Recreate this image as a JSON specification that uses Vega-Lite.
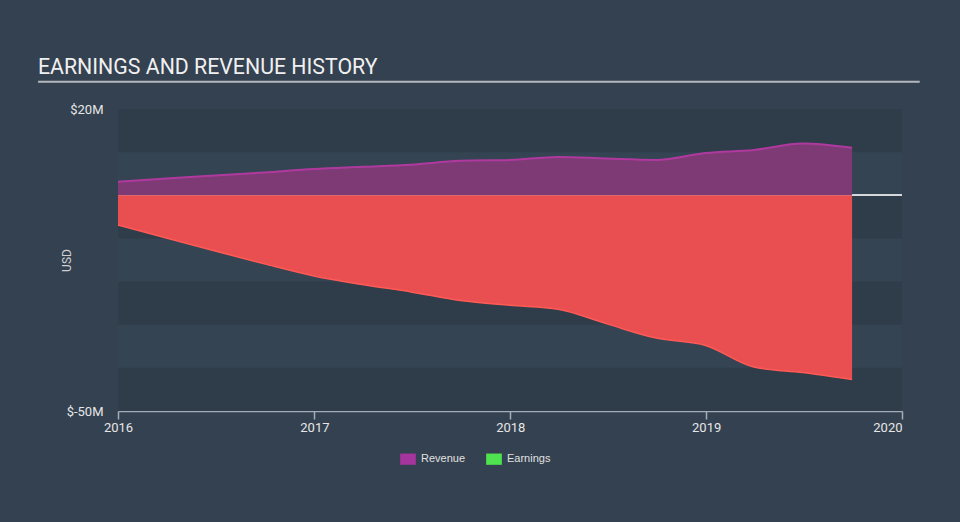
{
  "$schema": "https://vega.github.io/schema/vega-lite/v6.json",
  "width": 784,
  "height": 302,
  "autosize": {"type": "none"},
  "padding": {"left": 118, "top": 109, "right": 58, "bottom": 111},
  "background": "#344150",
  "title": {
    "text": "EARNINGS AND REVENUE HISTORY",
    "anchor": "start",
    "frame": "group",
    "dx": -80,
    "offset": 3,
    "font": "Roboto",
    "fontSize": 21.3,
    "fontWeight": "normal",
    "color": "#f0f0f0"
  },
  "config": {
    "view": {"stroke": null, "fill": "#354453"},
    "axisX": {
      "domainColor": "#a3adb8",
      "domainWidth": 1.5,
      "tickColor": "#a3adb8",
      "tickWidth": 1.5,
      "tickSize": 8,
      "grid": false,
      "labelFont": "Roboto",
      "labelFontSize": 13,
      "labelColor": "#e6e6e6",
      "labelPadding": 2,
      "title": null
    },
    "axisY": {
      "domain": false,
      "ticks": false,
      "grid": false,
      "labelFont": "Roboto",
      "labelFontSize": 13,
      "labelColor": "#e6e6e6",
      "labelPadding": 15,
      "titleFont": "Roboto",
      "titleFontSize": 12,
      "titleFontWeight": "normal",
      "titleColor": "#d0d0d0"
    }
  },
  "datasets": {
    "bands": [
      {"lo": 10, "hi": 20},
      {"lo": -10, "hi": 0},
      {"lo": -30, "hi": -20},
      {"lo": -50, "hi": -40}
    ],
    "history": [
      {"date": "2016-01-01", "series": "Revenue", "value": 3.15},
      {"date": "2016-03-31", "series": "Revenue", "value": 3.9},
      {"date": "2016-06-30", "series": "Revenue", "value": 4.6},
      {"date": "2016-09-30", "series": "Revenue", "value": 5.3},
      {"date": "2016-12-31", "series": "Revenue", "value": 6.1},
      {"date": "2017-03-31", "series": "Revenue", "value": 6.6},
      {"date": "2017-06-30", "series": "Revenue", "value": 7.1},
      {"date": "2017-09-30", "series": "Revenue", "value": 8.0},
      {"date": "2017-12-31", "series": "Revenue", "value": 8.2},
      {"date": "2018-03-31", "series": "Revenue", "value": 8.9},
      {"date": "2018-06-30", "series": "Revenue", "value": 8.5},
      {"date": "2018-09-30", "series": "Revenue", "value": 8.2},
      {"date": "2018-12-31", "series": "Revenue", "value": 9.8},
      {"date": "2019-03-31", "series": "Revenue", "value": 10.5},
      {"date": "2019-06-30", "series": "Revenue", "value": 12.0},
      {"date": "2019-09-30", "series": "Revenue", "value": 11.0},
      {"date": "2016-01-01", "series": "Earnings", "value": -6.9},
      {"date": "2016-03-31", "series": "Earnings", "value": -9.9},
      {"date": "2016-06-30", "series": "Earnings", "value": -12.9},
      {"date": "2016-09-30", "series": "Earnings", "value": -15.9},
      {"date": "2016-12-31", "series": "Earnings", "value": -18.7},
      {"date": "2017-03-31", "series": "Earnings", "value": -20.7},
      {"date": "2017-06-30", "series": "Earnings", "value": -22.4},
      {"date": "2017-09-30", "series": "Earnings", "value": -24.4},
      {"date": "2017-12-31", "series": "Earnings", "value": -25.5},
      {"date": "2018-03-31", "series": "Earnings", "value": -26.4},
      {"date": "2018-06-30", "series": "Earnings", "value": -29.8},
      {"date": "2018-09-30", "series": "Earnings", "value": -33.1},
      {"date": "2018-12-31", "series": "Earnings", "value": -34.8},
      {"date": "2019-03-31", "series": "Earnings", "value": -39.8},
      {"date": "2019-06-30", "series": "Earnings", "value": -41.1},
      {"date": "2019-09-30", "series": "Earnings", "value": -42.7}
    ]
  },
  "layer": [
    {
      "data": {"name": "bands"},
      "mark": {"type": "rect", "color": "#2f3c4a"},
      "encoding": {
        "y": {
          "field": "hi",
          "type": "quantitative",
          "scale": {"domain": [-50, 20], "nice": false, "zero": false},
          "axis": {
            "values": [20, -50],
            "labelExpr": "'$' + datum.value + 'M'",
            "title": "USD",
            "titleX": -45,
            "titleY": 151,
            "titleAngle": -90
          }
        },
        "y2": {"field": "lo"}
      }
    },
    {
      "data": {"name": "history"},
      "mark": {"type": "rule", "color": "#d5d8dc", "strokeWidth": 1.5},
      "encoding": {
        "y": {"datum": 0, "type": "quantitative"}
      }
    },
    {
      "data": {"name": "history"},
      "transform": [{"filter": "datum.series == 'Revenue'"}],
      "mark": {
        "type": "area",
        "interpolate": "monotone",
        "color": "#7d3a75",
        "opacity": 1,
        "line": {"color": "#b0399f", "strokeWidth": 2}
      },
      "encoding": {
        "x": {
          "field": "date",
          "type": "temporal",
          "scale": {"type": "utc", "domain": [{"year": 2016, "utc": true}, {"year": 2020, "utc": true}]},
          "axis": {
            "values": [
              {"year": 2016, "utc": true},
              {"year": 2017, "utc": true},
              {"year": 2018, "utc": true},
              {"year": 2019, "utc": true},
              {"year": 2020, "utc": true}
            ],
            "labelExpr": "utcFormat(datum.value, '%Y')",
            "labelAlign": {"condition": {"test": "utcyear(datum.value) == 2020", "value": "right"}, "value": "center"}
          }
        },
        "y": {"field": "value", "type": "quantitative"}
      }
    },
    {
      "data": {"name": "history"},
      "transform": [{"filter": "datum.series == 'Earnings'"}],
      "mark": {
        "type": "area",
        "interpolate": "monotone",
        "color": "#e94f51",
        "opacity": 1,
        "line": {"color": "#ff5a55", "strokeWidth": 1.5}
      },
      "encoding": {
        "x": {"field": "date", "type": "temporal"},
        "y": {"field": "value", "type": "quantitative"}
      }
    },
    {
      "data": {"name": "history"},
      "mark": {"type": "point", "shape": "square", "filled": true, "opacity": 0},
      "encoding": {
        "x": {"field": "date", "type": "temporal"},
        "y": {"field": "value", "type": "quantitative"},
        "color": {
          "field": "series",
          "type": "nominal",
          "scale": {"domain": ["Revenue", "Earnings"], "range": ["#a5349c", "#4fe34f"]},
          "legend": {
            "orient": "none",
            "legendX": 282,
            "legendY": 342,
            "direction": "horizontal",
            "title": null,
            "symbolType": "M-1,-0.72L1,-0.72L1,0.72L-1,0.72Z",
            "symbolSize": 246,
            "symbolOpacity": 1,
            "symbolStrokeWidth": 0,
            "labelFont": "Liberation Sans",
            "labelFontSize": 11,
            "labelColor": "#e0e0e0",
            "labelOffset": 5,
            "columnPadding": 20
          }
        }
      }
    },
    {
      "data": {"values": [{}]},
      "mark": {"type": "rule", "color": "#b4b8bd", "strokeWidth": 2, "clip": false},
      "encoding": {
        "x": {"datum": {"year": 2015, "month": 8, "date": 5, "utc": true}, "type": "temporal"},
        "x2": {"datum": {"year": 2020, "month": 2, "date": 3, "utc": true}},
        "y": {"datum": 26.3, "type": "quantitative"}
      }
    }
  ]
}
